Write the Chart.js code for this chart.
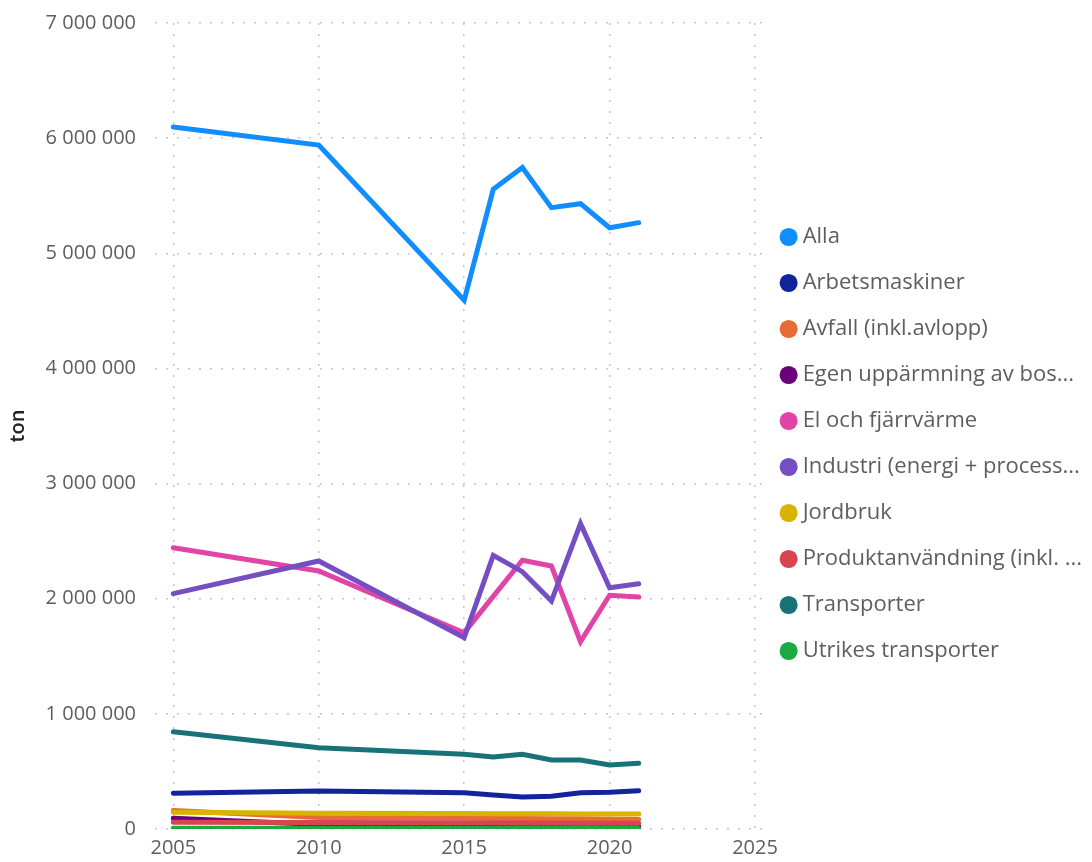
<!DOCTYPE html>
<html>
<head>
<meta charset="utf-8">
<script src="https://cdn.jsdelivr.net/npm/chart.js@4/dist/chart.umd.min.js"></script>
<style>
  html, body { margin: 0; padding: 0; background: #fff; }
  #wrap { width: 1092px; height: 862px; position: relative; }
</style>
</head>
<body>
<div id="wrap"><canvas id="c" width="1092" height="862"></canvas></div>
<script>
const years = [2005, 2010, 2015, 2016, 2017, 2018, 2019, 2020, 2021];
const xTicks = [2005, 2010, 2015, 2020, 2025];
const yTicks = [0, 1000000, 2000000, 3000000, 4000000, 5000000, 6000000, 7000000];

const seriesNames = [
  "Alla",
  "Arbetsmaskiner",
  "Avfall (inkl.avlopp)",
  "Egen uppärmning av bos...",
  "El och fjärrvärme",
  "Industri (energi + process...",
  "Jordbruk",
  "Produktanvändning (inkl. ...",
  "Transporter",
  "Utrikes transporter"
];
const seriesColors = ["#118DFF", "#12239E", "#E66C37", "#6B007B", "#E044A7", "#744EC2", "#D9B300", "#D64550", "#197278", "#1AAB40"];

const alla           = [6097000, 5940000, 4592000, 5556000, 5744000, 5396000, 5431000, 5222000, 5266000];
const arbetsmaskiner = [310000, 330000, 315000, 295000, 278000, 284000, 315000, 320000, 333000];
const avfall         = [160000, 100000, 95000, 93000, 92000, 90000, 88000, 85000, 82000];
const egen           = [93000, 40000, 30000, 28000, 27000, 25000, 24000, 23000, 22000];
const elFjarrvarme   = [2443000, 2241000, 1705000, 2020000, 2334000, 2284000, 1627000, 2030000, 2015000];
const industri       = [2044000, 2328000, 1662000, 2377000, 2235000, 1980000, 2652000, 2096000, 2130000];
const jordbruk       = [145000, 137000, 134000, 133000, 133000, 132000, 131000, 130000, 130000];
const produkt        = [58000, 57000, 55000, 54000, 53000, 52000, 51000, 50000, 49000];
const transporter    = [845000, 706000, 649000, 625000, 649000, 600000, 600000, 556000, 571000];
const utrikes        = [6000, 7000, 7000, 7000, 7000, 7000, 7000, 4000, 5000];

const seriesValues = [alla, arbetsmaskiner, avfall, egen, elFjarrvarme, industri, jordbruk, produkt, transporter, utrikes];

const N = seriesNames.length;
const datasets = seriesNames.map((name, i) => ({
  label: [name],
  data: years.map((y, j) => ({ x: y, y: seriesValues[i][j] })),
  borderColor: seriesColors[i],
  backgroundColor: seriesColors[i],
  borderWidth: 5,
  pointRadius: 0,
  pointHoverRadius: 0,
  borderCapStyle: 'round',
  borderJoinStyle: 'miter',
  tension: 0,
  order: N - i
}));

const fmt = v => String(Math.round(v)).replace(/\B(?=(\d{3})+(?!\d))/g, ' ');
const FONT = "'Open Sans', 'Noto Sans', sans-serif";
const GRID = '#C8C6C4';

new Chart(document.getElementById('c'), {
  type: 'line',
  data: { datasets },
  options: {
    responsive: false,
    animation: false,
    devicePixelRatio: 1,
    layout: { padding: { top: 23, bottom: 0, left: 0, right: 0 } },
    plugins: {
      tooltip: { enabled: false },
      legend: {
        position: 'right',
        align: 'center',
        maxWidth: 500,
        title: { display: true, text: '', padding: { top: 5, bottom: 0 }, font: { size: 1, lineHeight: 1 } },
        labels: {
          usePointStyle: true,
          pointStyle: 'circle',
          boxWidth: 6,
          boxHeight: 12.8,
          padding: 21,
          color: '#605E5C',
          font: { family: FONT, size: 22, lineHeight: 25 / 22 },
          sort: (a, b) => a.datasetIndex - b.datasetIndex,
          generateLabels: (chart) => {
            const items = Chart.defaults.plugins.legend.labels.generateLabels(chart);
            items.forEach(it => { it.lineWidth = 0; it.strokeStyle = 'rgba(0,0,0,0)'; });
            return items;
          }
        }
      }
    },
    scales: {
      x: {
        type: 'linear',
        min: 2004.37,
        max: 2025.33,
        afterBuildTicks: s => { s.ticks = xTicks.map(v => ({ value: v })); },
        afterFit: s => { s.height = 33; },
        ticks: {
          color: '#605E5C',
          font: { family: FONT, size: 20 },
          padding: 7,
          maxRotation: 0,
          callback: v => String(v)
        },
        grid: { color: GRID, lineWidth: 1.5, drawTicks: false },
        border: { display: false, dash: [2, 9] }
      },
      y: {
        min: 0,
        max: 7000000,
        afterBuildTicks: s => { s.ticks = yTicks.map(v => ({ value: v })); },
        afterFit: s => { s.width = 155; s.paddingTop = 0; s.paddingBottom = 0; },
        ticks: {
          color: '#605E5C',
          font: { family: FONT, size: 20 },
          padding: 19,
          callback: v => fmt(v)
        },
        title: {
          display: true,
          text: 'ton',
          color: '#252423',
          font: { family: FONT, size: 20, weight: '600' },
          padding: { top: 6, bottom: 0 }
        },
        grid: { color: GRID, lineWidth: 1.5, drawTicks: false },
        border: { display: false, dash: [2, 9] }
      }
    }
  }
});
</script>
</body>
</html>
